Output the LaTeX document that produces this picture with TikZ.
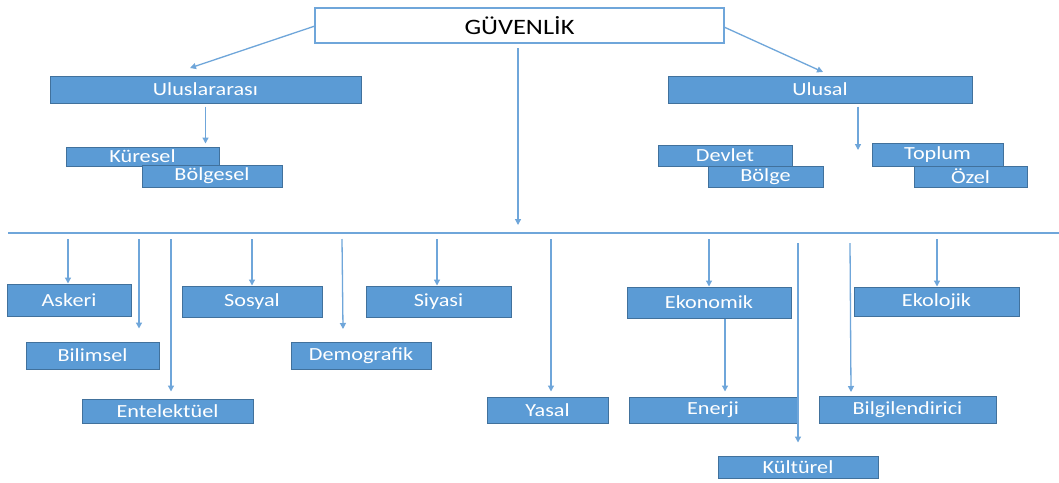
\documentclass[tikz,border=0pt]{standalone}
\usepackage{fontspec}
\setmainfont{Carlito}[FakeStretch=1.2]
\usetikzlibrary{arrows.meta}
\definecolor{boxfill}{HTML}{5B9BD5}
\definecolor{boxline}{HTML}{41719C}
\definecolor{arrcol}{HTML}{6FA6DA}
\begin{document}
\begin{tikzpicture}[x=1pt,y=-1pt,
  box/.style={draw=boxline, line width=1pt, fill=boxfill, text=white, inner sep=0pt,
    font=\fontsize{18.5}{20}\selectfont},
  topbox/.style={draw=arrcol, line width=1.2pt, fill=white, text=black, inner sep=0pt,
    font=\fontsize{22}{24}\selectfont},
  arr/.style={draw=arrcol, line width=1.3pt, -{Triangle[length=6pt,width=6pt]}},
  ln/.style={draw=arrcol, line width=1.3pt}]
\useasboundingbox (0,0) rectangle (1059,482);
\fill[white] (0,0) rectangle (1059,482);
% helper: box by corners
\newcommand{\bx}[6]{\node[#1, minimum width={#5-#3}, minimum height={#6-#4}] (#2) at ({(#3+#5)/2},{(#4+#6)/2}) {};}
% top
\node[topbox, minimum width=409pt, minimum height=35pt] (guv) at (519.5,25.5) {GÜVENLİK};
\node[box, minimum width=311pt, minimum height=27pt] (ulusl) at (205.5,89.5) {Uluslararası};
\node[box, minimum width=304pt, minimum height=27pt] (ulusal) at (820,89.5) {Ulusal};
\node[box, minimum width=153pt, minimum height=19pt] (kur) at (142.5,156.5) {Küresel};
\node[box, minimum width=140pt, minimum height=22pt] (bolgesel) at (212,176) {Bölgesel};
\node[box, minimum width=134pt, minimum height=21pt] (devlet) at (725,155.5) {Devlet};
\node[box, minimum width=115pt, minimum height=21pt] (bolge) at (765.5,176.5) {Bölge};
\node[box, minimum width=131pt, minimum height=23pt] (toplum) at (937.5,154.5) {Toplum};
\node[box, minimum width=113pt, minimum height=21pt] (ozel) at (970.5,176.5) {Özel};
% top connectors
\coordinate (gl) at (315,26);
\coordinate (gr) at (724,27);
\coordinate (gc) at (518,48);
\coordinate (tl) at (190,68);
\coordinate (tr) at (823,72);
\coordinate (tc) at (518,225);
\coordinate (ut) at (858,150);
\draw[arr] (gl) -- (tl);
\draw[arr] (gr) -- (tr);
\draw[arr] (gc) -- (tc);
\draw[arr] ([yshift=-3pt]ulusl.south) -- ([yshift=3pt]kur.north -| ulusl.south);
\draw[arr] ([yshift=-3pt]ulusal.south -| ut) -- (ut);
% horizontal line
\coordinate (hl) at (8,233);
\coordinate (hr) at (1059,233);
\draw[ln] (hl) -- (hr);
% bottom boxes
\node[box, minimum width=124pt, minimum height=32pt] (askeri) at (69,300) {Askeri};
\node[box, minimum width=133pt, minimum height=27pt] (bilimsel) at (92.5,355.5) {Bilimsel};
\node[box, minimum width=171pt, minimum height=24pt] (entel) at (167.5,411) {Entelektüel};
\node[box, minimum width=140pt, minimum height=31pt] (sosyal) at (252,301.5) {Sosyal};
\node[box, minimum width=140pt, minimum height=27pt] (demo) at (361,355.5) {Demografik};
\node[box, minimum width=145pt, minimum height=31pt] (siyasi) at (438.5,301.5) {Siyasi};
\node[box, minimum width=121pt, minimum height=26pt] (yasal) at (547.5,410) {Yasal};
\node[box, minimum width=164pt, minimum height=31pt] (ekonomik) at (709,302.5) {Ekonomik};
\node[box, minimum width=168pt, minimum height=26pt] (enerji) at (713,410) {Enerji};
\node[box, minimum width=160pt, minimum height=22pt] (kultur) at (798,467) {Kültürel};
\node[box, minimum width=177pt, minimum height=27pt] (bilgi) at (907.5,409.5) {Bilgilendirici};
\node[box, minimum width=165pt, minimum height=29pt] (ekolojik) at (936.5,301.5) {Ekolojik};
% bottom connectors
\coordinate (s1) at (68,239);
\coordinate (s2) at (139,239);
\coordinate (s3) at (171,239);
\coordinate (s4) at (252,239);
\coordinate (s5) at (342,239);
\coordinate (s6) at (437,239);
\coordinate (s7) at (551,239);
\coordinate (s8) at (709,239);
\coordinate (s9) at (798,243);
\coordinate (s10) at (850,243);
\coordinate (s11) at (937,239);
\coordinate (e5) at (343,329);
\coordinate (e10) at (851,392);
\draw[arr] (s1) -- (s1 |- askeri.north);
\draw[arr] (s2) -- ([yshift=13pt]bilimsel.north -| s2);
\draw[arr] (s3) -- ([yshift=7pt]entel.north -| s3);
\draw[arr] (s4) -- (s4 |- sosyal.north);
\draw[arr] (s5) -- (e5);
\draw[arr] (s6) -- (s6 |- siyasi.north);
\draw[arr] (s7) -- ([yshift=5pt]yasal.north -| s7);
\draw[arr] (s8) -- (s8 |- ekonomik.north);
\draw[arr] (ekonomik.south -| 725,0) -- ([yshift=5pt]enerji.north -| 725,0);
\draw[arr] (s9) -- ([yshift=13pt]kultur.north -| s9);
\draw[arr] (s10) -- (e10);
\draw[arr] (s11) -- (s11 |- ekolojik.north);
\end{tikzpicture}
\end{document}
